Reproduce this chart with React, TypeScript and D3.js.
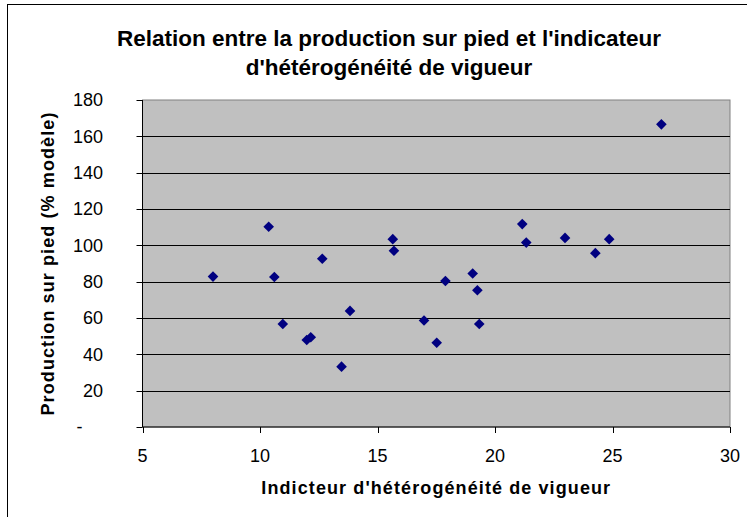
import React from "react";
import * as d3 from "d3";

const titleLines = ["Relation entre la production sur pied et l'indicateur", "d'hétérogénéité de vigueur"];
const xAxisTitle = "Indicteur d'hétérogénéité de vigueur";
const yAxisTitle = "Production sur pied (% modèle)";

const xValues = [8.0, 10.37, 10.61, 10.97, 11.99, 12.16, 12.65, 13.47, 13.83, 15.65, 15.7, 16.98, 17.52, 17.89, 19.05, 19.25, 19.33, 21.16, 21.33, 22.98, 24.27, 24.86, 27.08];
const yValues = [82.8, 110.2, 82.6, 56.7, 47.9, 49.4, 92.6, 33.2, 63.9, 103.4, 97.0, 58.6, 46.4, 80.4, 84.5, 75.3, 56.7, 111.7, 101.5, 104.1, 95.7, 103.4, 166.6];

const xTicks = [5, 10, 15, 20, 25, 30];
const yTicks = [0, 20, 40, 60, 80, 100, 120, 140, 160, 180];
const yTickLabels = ["-", "20", "40", "60", "80", "100", "120", "140", "160", "180"];

const W = 747;
const H = 517;
const plot = { left: 142.5, right: 730, top: 100, bottom: 427 };
const FONT = "'Liberation Sans', Arial, Helvetica, sans-serif";

export default function App() {
  const x = d3.scaleLinear().domain([5, 30]).range([plot.left, plot.right]);
  const y = d3.scaleLinear().domain([0, 180]).range([plot.bottom, plot.top]);
  const diamond = d3.symbol().type(d3.symbolDiamond2).size(72)();

  return (
    <svg
      width={W}
      height={H}
      style={{ position: "absolute", left: 0, top: 0, background: "#fff" }}
      fontFamily={FONT}
    >
      <rect x={0} y={0} width={W} height={H} fill="#fff" />
      <rect x={7.5} y={4.5} width={W + 20} height={H + 20} fill="none" stroke="#000" strokeWidth={1} />

      {titleLines.map((t, i) => (
        <text key={i} x={389} y={45.5 + i * 29} textAnchor="middle" fontSize={22.5} fontWeight="bold" fill="#000">
          {t}
        </text>
      ))}

      <rect
        x={plot.left}
        y={plot.top}
        width={plot.right - plot.left}
        height={plot.bottom - plot.top}
        fill="#C0C0C0"
        stroke="#808080"
        strokeWidth={1}
      />

      {yTicks
        .filter((v) => v > 0 && v < 180)
        .map((v) => (
          <line key={"g" + v} x1={plot.left} x2={plot.right} y1={Math.round(y(v)) + 0.5} y2={Math.round(y(v)) + 0.5} stroke="#000" strokeWidth={1} />
        ))}

      {/* axes */}
      <line x1={plot.left} x2={plot.left} y1={plot.top} y2={plot.bottom} stroke="#000" strokeWidth={1} />
      <line x1={plot.left} x2={plot.right} y1={plot.bottom} y2={plot.bottom} stroke="#000" strokeWidth={1} />

      {yTicks.map((v, i) => (
        <g key={"yt" + v}>
          <line x1={plot.left - 6} x2={plot.left} y1={Math.round(y(v)) + 0.5} y2={Math.round(y(v)) + 0.5} stroke="#000" strokeWidth={1} />
          <text
            x={v === 0 ? 79.5 : 103}
            y={y(v) + 6.3}
            textAnchor={v === 0 ? "middle" : "end"}
            fontSize={18}
            fill="#000"
          >
            {yTickLabels[i]}
          </text>
        </g>
      ))}

      {xTicks.map((v) => (
        <g key={"xt" + v}>
          <line x1={Math.round(x(v)) + 0.5} x2={Math.round(x(v)) + 0.5} y1={plot.bottom} y2={plot.bottom + 6} stroke="#000" strokeWidth={1} />
          <text x={x(v)} y={462} textAnchor="middle" fontSize={18} fill="#000">
            {v}
          </text>
        </g>
      ))}

      {xValues.map((xv, i) => (
        <path key={"p" + i} d={diamond} transform={`translate(${x(xv)},${y(yValues[i])})`} fill="#000080" />
      ))}

      <text
        x={(plot.left + plot.right) / 2}
        y={494}
        textAnchor="middle"
        fontSize={18}
        fontWeight="bold"
        letterSpacing={1.1}
        fill="#000"
      >
        {xAxisTitle}
      </text>

      <text
        transform={`translate(53.5,${(plot.top + plot.bottom) / 2}) rotate(-90)`}
        textAnchor="middle"
        fontSize={18}
        fontWeight="bold"
        letterSpacing={1.1}
        fill="#000"
      >
        {yAxisTitle}
      </text>
    </svg>
  );
}
